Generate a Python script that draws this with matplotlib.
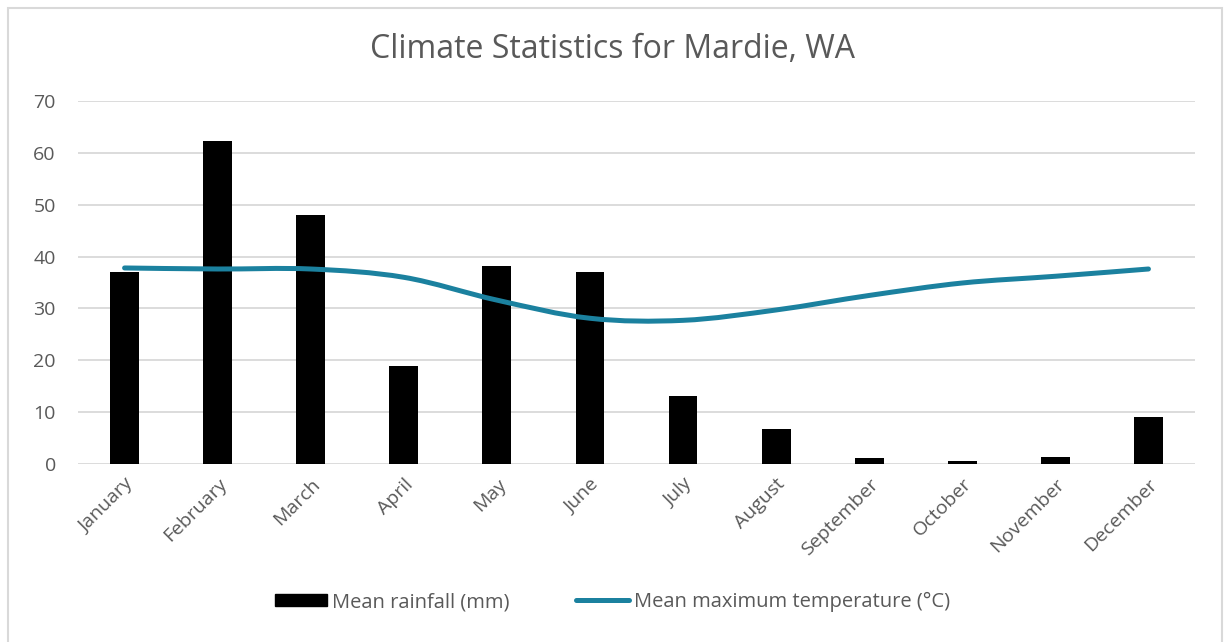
import numpy as np
import matplotlib
matplotlib.use("Agg")
import matplotlib.pyplot as plt
from matplotlib.path import Path
from matplotlib.patches import PathPatch, Rectangle, Patch
from matplotlib.lines import Line2D

months = ["January", "February", "March", "April", "May", "June",
          "July", "August", "September", "October", "November", "December"]
rainfall = [37.0, 62.2, 48.0, 18.9, 38.2, 37.0, 13.2, 6.8, 1.2, 0.6, 1.3, 9.0]
max_temp = [37.8, 37.6, 37.6, 36.0, 31.6, 28.1, 27.7, 29.7, 32.5, 34.9, 36.2, 37.6]

text_grey = "#595959"
line_col = "#1B819F"

plt.rcParams["font.family"] = ["Open Sans", "DejaVu Sans"]

fig = plt.figure(figsize=(12.25, 6.42), dpi=100)
ax = fig.add_axes([0.0637, 0.2773, 0.9118, 0.5654])

x = np.arange(len(months))
ax.bar(x, rainfall, width=0.31, color="black", zorder=2)


def smooth_path(xs, ys):
    # cubic bezier through the points, roughly like Excel's smoothed line
    pts = np.column_stack([xs, ys]).astype(float)
    verts = [pts[0]]
    codes = [Path.MOVETO]
    n = len(pts)
    for i in range(n - 1):
        p0 = pts[i - 1] if i > 0 else pts[i]
        p1 = pts[i]
        p2 = pts[i + 1]
        p3 = pts[i + 2] if i + 2 < n else pts[i + 1]
        c1 = p1 + (p2 - p0) / 6.0
        c2 = p2 - (p3 - p1) / 6.0
        verts += [c1, c2, p2]
        codes += [Path.CURVE4] * 3
    return Path(verts, codes)


ax.add_patch(PathPatch(smooth_path(x, max_temp), facecolor="none",
                       edgecolor=line_col, lw=3.6, capstyle="round",
                       joinstyle="round", zorder=3))

ax.set_xlim(-0.5, len(months) - 0.5)
ax.set_ylim(0, 70)
ax.set_yticks(range(0, 71, 10))
ax.yaxis.grid(True, color="#D9D9D9", lw=1.3, zorder=0)
ax.set_axisbelow(True)
for s in ax.spines.values():
    s.set_visible(False)
ax.tick_params(axis="both", length=0, colors=text_grey, labelsize=14)
ax.tick_params(axis="y", pad=16)
ax.set_xticks(x)
ax.set_xticklabels(months, rotation=45, ha="right", rotation_mode="anchor")
ax.tick_params(axis="x", pad=8)

fig.text(0.5, 1 - 50 / 642, "Climate Statistics for Mardie, WA",
         ha="center", va="center", fontsize=23, color=text_grey)

handles = [Patch(facecolor="black", edgecolor="black"),
           Line2D([0], [0], color=line_col, lw=3.6, solid_capstyle="round")]
fig.legend(handles, ["Mean rainfall (mm)", "Mean maximum temperature (\u00b0C)"],
           loc="center", bbox_to_anchor=(0.5, 1 - 602 / 642), ncol=2, frameon=False,
           fontsize=14.5, labelcolor=text_grey, handlelength=2.6, handleheight=0.6,
           handletextpad=0.25, columnspacing=3.3)

fig.add_artist(Rectangle((8 / 1225, -0.01), 1 - 11 / 1225, 1 - 8 / 642 + 0.01,
                         transform=fig.transFigure, fill=False,
                         edgecolor="#D9D9D9", lw=1.5))

fig.savefig("out.png", dpi=100)
